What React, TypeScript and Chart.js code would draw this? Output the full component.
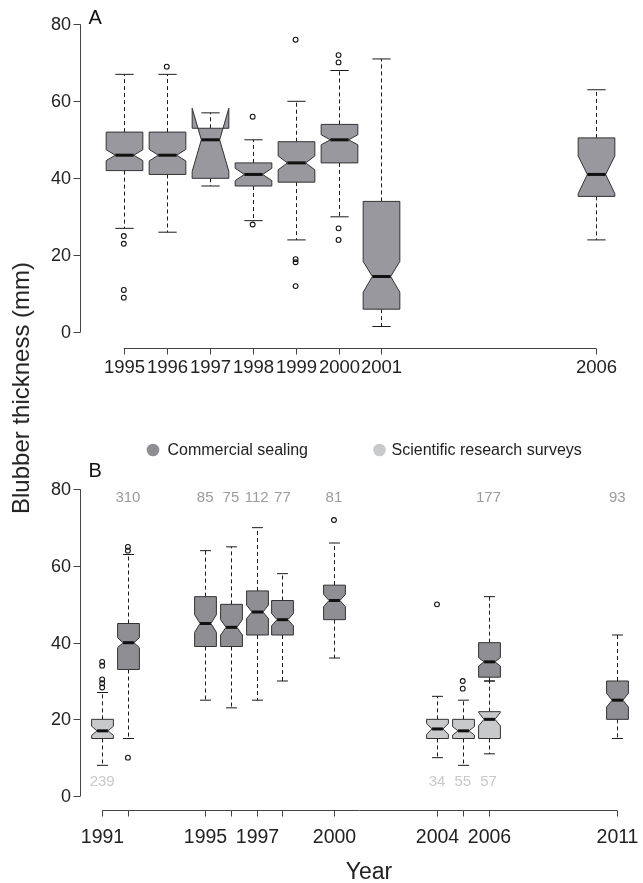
import React, { useEffect, useRef } from "react";
import { Chart, registerables } from "chart.js";

Chart.register(...registerables);

const FONT = '"Liberation Sans", Arial, Helvetica, sans-serif';

// ---------------- Panel A (commercial sealing) ----------------
const yearsA = [1995, 1996, 1997, 1998, 1999, 2000, 2001, 2006];
const whiskerLowA = [27, 26, 38, 29, 24, 30, 1.5, 24];
const q1A = [42, 41, 40, 38, 39, 44, 6, 35.3];
const notchLowA = [44.6, 44.5, 41.8, 39.4, 42.2, 48.7, 10.4, 36];
const medianA = [46, 46, 50, 41, 44, 50, 14.5, 41];
const notchHighA = [47.4, 47.5, 58.2, 42.6, 45.8, 51.3, 18.4, 45.8];
const q3A = [52, 52, 53, 44, 49.5, 54, 34, 50.5];
const whiskerHighA = [67, 67, 57, 50, 60, 68, 71, 63];
const outlierYearsA = [1995, 1995, 1995, 1995, 1996, 1998, 1998, 1999, 1999, 1999, 1999, 2000, 2000, 2000, 2000];
const outlierValuesA = [25, 23, 11, 9, 69, 56, 28, 76, 19, 18.2, 12, 72, 70.1, 27, 24];
const yTicks = [0, 20, 40, 60, 80];
const xTicksA = [1995, 1996, 1997, 1998, 1999, 2000, 2001, 2006];
const xLabelsA = ["1995", "1996", "1997", "1998", "1999", "2000", "2001", "2006"];

// ---------------- Panel B ----------------
// Commercial sealing
const yearsBC = [1992, 1995, 1996, 1997, 1998, 2000, 2006, 2011];
const whiskerLowBC = [15, 25, 23, 25, 30, 36, 30, 15];
const q1BC = [33, 39, 39, 42, 42, 46, 31, 20];
const notchLowBC = [38.7, 42.7, 42, 46.3, 44.4, 49.4, 33.9, 23.2];
const medianBC = [40, 45, 44, 48, 46, 51, 35, 25];
const notchHighBC = [41.3, 47.3, 46, 49.8, 47.6, 52.6, 36.1, 26.8];
const q3BC = [45, 52, 50, 53.5, 51, 55, 40, 30];
const whiskerHighBC = [63, 64, 65, 70, 58, 66, 52, 42];
const sampleBC = ["310", "85", "75", "112", "77", "81", "177", "93"];
const outlierYearsBC = [1992, 1992, 1992, 2000];
const outlierValuesBC = [65, 64, 10, 72];
// Scientific research surveys
const yearsBR = [1991, 2004, 2005, 2006];
const whiskerLowBR = [8, 10, 8, 11];
const q1BR = [15, 15, 15, 15];
const notchLowBR = [15.8, 16.1, 15.9, 18.3];
const medianBR = [17, 17.5, 17, 20];
const notchHighBR = [18.2, 18.9, 18.1, 21.8];
const q3BR = [20, 20, 20, 22];
const whiskerHighBR = [27, 26, 25, 30];
const sampleBR = ["239", "34", "55", "57"];
const outlierYearsBR = [1991, 1991, 1991, 1991, 1991, 2004, 2005, 2005];
const outlierValuesBR = [35, 34, 30.4, 29.4, 28.3, 50, 30, 28];
const xTicksB = [1991, 1992, 1995, 1996, 1997, 1998, 2000, 2004, 2005, 2006, 2011];
const xLabelsB = ["1991", "", "1995", "", "1997", "", "2000", "2004", "", "2006", "2011"];

const COL_A = "#98989e";
const COL_COMM = "#8e8e93";
const COL_RES = "#c8c9cb";

type BoxSet = {
  years: number[];
  wLow: number[];
  q1: number[];
  nLow: number[];
  med: number[];
  nHigh: number[];
  q3: number[];
  wHigh: number[];
  fill: string;
};

function line(ctx: CanvasRenderingContext2D, x1: number, y1: number, x2: number, y2: number) {
  ctx.beginPath();
  ctx.moveTo(x1, y1);
  ctx.lineTo(x2, y2);
  ctx.stroke();
}

function drawBoxes(chart: any, set: BoxSet, halfW: number) {
  const ctx: CanvasRenderingContext2D = chart.ctx;
  const xs = chart.scales.x;
  const ys = chart.scales.y;
  const Y = (v: number) => ys.getPixelForValue(v);
  set.years.forEach((yr, i) => {
    const px = Math.round(xs.getPixelForValue(yr)) + 0.5;
    const hw = xs.getPixelForValue(yr + halfW) - xs.getPixelForValue(yr);
    ctx.save();
    ctx.strokeStyle = "#1a1a1a";
    ctx.lineWidth = 1;
    ctx.setLineDash([4, 3]);
    line(ctx, px, Y(set.q3[i]), px, Y(set.wHigh[i]));
    line(ctx, px, Y(set.q1[i]), px, Y(set.wLow[i]));
    ctx.setLineDash([]);
    line(ctx, px - hw / 2, Y(set.wHigh[i]), px + hw / 2, Y(set.wHigh[i]));
    line(ctx, px - hw / 2, Y(set.wLow[i]), px + hw / 2, Y(set.wLow[i]));
    // notched box (R style)
    const L = px - hw, R = px + hw;
    ctx.beginPath();
    ctx.moveTo(L, Y(set.q1[i]));
    ctx.lineTo(R, Y(set.q1[i]));
    ctx.lineTo(R, Y(set.nLow[i]));
    ctx.lineTo(px + hw / 2, Y(set.med[i]));
    ctx.lineTo(R, Y(set.nHigh[i]));
    ctx.lineTo(R, Y(set.q3[i]));
    ctx.lineTo(L, Y(set.q3[i]));
    ctx.lineTo(L, Y(set.nHigh[i]));
    ctx.lineTo(px - hw / 2, Y(set.med[i]));
    ctx.lineTo(L, Y(set.nLow[i]));
    ctx.closePath();
    ctx.fillStyle = set.fill;
    ctx.fill();
    ctx.strokeStyle = "#333";
    ctx.lineWidth = 1;
    ctx.stroke();
    ctx.lineWidth = 3;
    ctx.strokeStyle = "#111";
    line(ctx, px - hw / 2, Y(set.med[i]), px + hw / 2, Y(set.med[i]));
    ctx.restore();
  });
}

function drawAxes(chart: any, xTicks: number[], xLabels: string[], labelOffset: number, xFont: number) {
  const ctx: CanvasRenderingContext2D = chart.ctx;
  const xs = chart.scales.x;
  const ys = chart.scales.y;
  const area = chart.chartArea;
  ctx.save();
  ctx.strokeStyle = "#444";
  ctx.lineWidth = 1;
  const ax = Math.round(area.left) + 0.5;
  line(ctx, ax, ys.getPixelForValue(yTicks[0]), ax, ys.getPixelForValue(yTicks[yTicks.length - 1]));
  ctx.fillStyle = "#222";
  ctx.font = `18px ${FONT}`;
  ctx.textAlign = "right";
  ctx.textBaseline = "middle";
  yTicks.forEach((t) => {
    const py = Math.round(ys.getPixelForValue(t)) + 0.5;
    line(ctx, ax - 7, py, ax, py);
    ctx.fillText(String(t), ax - 9.5, py + 1);
  });
  const by = Math.round(area.bottom) + 0.5;
  line(ctx, xs.getPixelForValue(xTicks[0]), by, xs.getPixelForValue(xTicks[xTicks.length - 1]), by);
  ctx.font = `${xFont}px ${FONT}`;
  ctx.textAlign = "center";
  xTicks.forEach((t, i) => {
    const px = Math.round(xs.getPixelForValue(t)) + 0.5;
    line(ctx, px, by, px, by + 6);
    if (xLabels[i]) ctx.fillText(xLabels[i], px, by + labelOffset);
  });
  ctx.restore();
}

function useChart(ref: React.RefObject<HTMLCanvasElement | null>, make: () => any) {
  useEffect(() => {
    if (!ref.current) return;
    const chart = new Chart(ref.current, make());
    return () => chart.destroy();
  }, []);
}

const outlierStyle = {
  pointRadius: 2.4,
  pointBorderColor: "#111",
  pointBackgroundColor: "rgba(0,0,0,0)",
  pointBorderWidth: 1.1,
  showLine: false,
};

export default function App() {
  const refA = useRef<HTMLCanvasElement>(null);
  const refB = useRef<HTMLCanvasElement>(null);

  useChart(refA, () => ({
    type: "scatter",
    data: {
      datasets: [
        {
          label: "Outliers",
          data: outlierYearsA.map((x, i) => ({ x, y: outlierValuesA[i] })),
          ...outlierStyle,
        },
      ],
    },
    options: {
      animation: false,
      responsive: false,
      devicePixelRatio: 1,
      layout: { padding: { left: 80, right: 0, top: 8.9, bottom: 52.3 } },
      scales: {
        x: { type: "linear", min: 1993.98, max: 2006.97, display: false },
        y: { type: "linear", min: -4, max: 84, display: false },
      },
      plugins: { legend: { display: false }, tooltip: { enabled: false } },
    },
    plugins: [
      {
        id: "boxesA",
        beforeDatasetsDraw(chart: any) {
          drawAxes(chart, xTicksA, xLabelsA, 19, 18.5);
          drawBoxes(
            chart,
            { years: yearsA, wLow: whiskerLowA, q1: q1A, nLow: notchLowA, med: medianA, nHigh: notchHighA, q3: q3A, wHigh: whiskerHighA, fill: COL_A },
            0.427
          );
          const ctx = chart.ctx;
          ctx.save();
          ctx.fillStyle = "#111";
          ctx.font = `20px ${FONT}`;
          ctx.textAlign = "left";
          ctx.textBaseline = "alphabetic";
          ctx.fillText("A", 88.5, 24);
          ctx.restore();
        },
      },
    ],
  }));

  useChart(refB, () => ({
    type: "scatter",
    data: {
      datasets: [
        {
          label: "Commercial sealing",
          data: outlierYearsBC.map((x, i) => ({ x, y: outlierValuesBC[i] })),
          ...outlierStyle,
        },
        {
          label: "Scientific research surveys",
          data: outlierYearsBR.map((x, i) => ({ x, y: outlierValuesBR[i] })),
          ...outlierStyle,
        },
      ],
    },
    options: {
      animation: false,
      responsive: false,
      devicePixelRatio: 1,
      layout: { padding: { left: 80, right: 0, top: 74, bottom: 73 } },
      scales: {
        x: { type: "linear", min: 1990.14, max: 2011.8, display: false },
        y: { type: "linear", min: -3.65, max: 84, display: false },
      },
      plugins: { legend: { display: false }, tooltip: { enabled: false } },
    },
    plugins: [
      {
        id: "boxesB",
        beforeDatasetsDraw(chart: any) {
          drawAxes(chart, xTicksB, xLabelsB, 27, 19.5);
          drawBoxes(
            chart,
            { years: yearsBC, wLow: whiskerLowBC, q1: q1BC, nLow: notchLowBC, med: medianBC, nHigh: notchHighBC, q3: q3BC, wHigh: whiskerHighBC, fill: COL_COMM },
            0.423
          );
          drawBoxes(
            chart,
            { years: yearsBR, wLow: whiskerLowBR, q1: q1BR, nLow: notchLowBR, med: medianBR, nHigh: notchHighBR, q3: q3BR, wHigh: whiskerHighBR, fill: COL_RES },
            0.423
          );
          const ctx: CanvasRenderingContext2D = chart.ctx;
          const xs = chart.scales.x;
          const ys = chart.scales.y;
          ctx.save();
          // sample sizes
          ctx.font = `15px ${FONT}`;
          ctx.textAlign = "center";
          ctx.textBaseline = "middle";
          ctx.fillStyle = "#9c9c9c";
          yearsBC.forEach((yr, i) => ctx.fillText(sampleBC[i], xs.getPixelForValue(yr), ys.getPixelForValue(77.8)));
          ctx.fillStyle = "#c9c9c9";
          yearsBR.forEach((yr, i) => ctx.fillText(sampleBR[i], xs.getPixelForValue(yr), ys.getPixelForValue(3.7)));
          // panel letter
          ctx.fillStyle = "#111";
          ctx.font = `20px ${FONT}`;
          ctx.textAlign = "left";
          ctx.textBaseline = "alphabetic";
          ctx.fillText("B", 88.5, 77);
          // legend
          ctx.font = `16px ${FONT}`;
          ctx.textBaseline = "middle";
          ctx.fillStyle = COL_COMM;
          ctx.beginPath();
          ctx.arc(153, 50, 6.3, 0, Math.PI * 2);
          ctx.fill();
          ctx.fillStyle = "#222";
          ctx.fillText("Commercial sealing", 167.5, 50.5);
          ctx.fillStyle = COL_RES;
          ctx.beginPath();
          ctx.arc(379.5, 50, 6.3, 0, Math.PI * 2);
          ctx.fill();
          ctx.fillStyle = "#222";
          ctx.fillText("Scientific research surveys", 391.5, 50.5);
          // x title
          ctx.font = `23px ${FONT}`;
          ctx.textAlign = "center";
          ctx.textBaseline = "alphabetic";
          ctx.fillText("Year", 369, 479);
          ctx.restore();
        },
      },
    ],
  }));

  return (
    <div style={{ position: "absolute", left: 0, top: 0, width: 643, height: 883, background: "#fff", overflow: "hidden" }}>
      <canvas ref={refA} width={643} height={400} style={{ position: "absolute", left: 0, top: 0, width: 643, height: 400 }} />
      <canvas ref={refB} width={643} height={483} style={{ position: "absolute", left: 0, top: 400, width: 643, height: 483 }} />
      <div
        style={{
          position: "absolute",
          left: 21,
          top: 388,
          transform: "translate(-50%, -50%) rotate(-90deg)",
          whiteSpace: "nowrap",
          font: `24px ${FONT}`,
          color: "#222",
        }}
      >
        Blubber thickness (mm)
      </div>
    </div>
  );
}
